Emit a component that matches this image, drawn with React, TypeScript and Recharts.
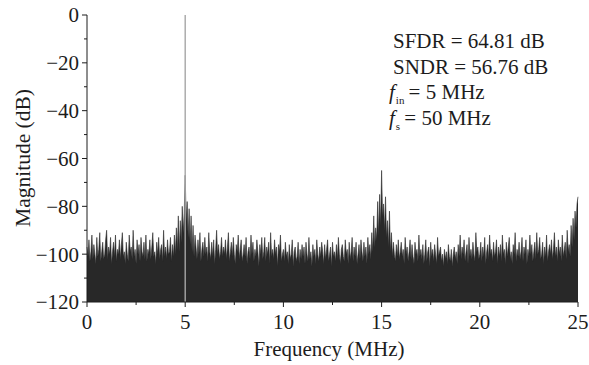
import { ComposedChart, Area, Line, XAxis, YAxis } from "recharts";

const FONT = '"Liberation Serif", "Times New Roman", serif';
const INK = "#1c1c1c";

// FFT magnitude (dB), one bin every 0.05 MHz, 0 .. 25 MHz (twenty bins per row = 1 MHz)
const magnitude = [
  -97, -101, -94, -103, -99, -92, -102, -96, -100, -104, -93, -101, -98, -91, -103, -99, -95, -102, -100, -94,
  -90, -102, -97, -100, -93, -104, -99, -95, -101, -92, -103, -98, -100, -94, -102, -96, -91, -101, -99, -104,
  -95, -100, -103, -92, -99, -97, -102, -90, -101, -98, -104, -94, -100, -96, -103, -93, -99, -101, -95, -102,
  -92, -103, -98, -100, -94, -102, -97, -91, -101, -99, -104, -95, -100, -93, -102, -98, -96, -103, -90, -101,
  -97, -102, -94, -100, -99, -93, -103, -96, -101, -92, -100, -89, -98, -84, -99, -86, -95, -80, -91, -83,
  -67, -86, -78, -93, -81, -96, -84, -99, -88, -101, -92, -97, -102, -94, -100, -91, -103, -98, -95, -101,
  -93, -100, -97, -103, -91, -99, -102, -95, -101, -94, -104, -98, -90, -100, -96, -102, -99, -93, -101, -97,
  -100, -94, -102, -97, -91, -103, -99, -95, -101, -93, -100, -104, -96, -99, -92, -102, -98, -94, -103, -100,
  -96, -101, -93, -104, -99, -97, -102, -92, -100, -95, -103, -98, -101, -94, -99, -105, -96, -100, -93, -102,
  -99, -93, -103, -97, -100, -95, -104, -91, -101, -98, -102, -94, -100, -97, -105, -96, -99, -92, -103, -100,
  -98, -103, -95, -101, -99, -104, -96, -102, -100, -94, -105, -99, -97, -103, -101, -95, -104, -98, -102, -96,
  -101, -97, -104, -95, -100, -103, -93, -102, -99, -105, -96, -101, -98, -104, -94, -100, -103, -97, -101, -95,
  -99, -104, -96, -102, -98, -94, -103, -100, -97, -105, -95, -101, -99, -103, -96, -102, -93, -100, -104, -98,
  -96, -101, -103, -94, -100, -98, -104, -95, -102, -99, -93, -103, -97, -101, -95, -104, -100, -96, -102, -94,
  -99, -103, -95, -101, -97, -104, -93, -100, -96, -102, -91, -99, -84, -97, -89, -94, -78, -92, -75, -88,
  -65, -84, -79, -90, -76, -93, -86, -97, -82, -99, -91, -101, -95, -100, -103, -96, -101, -94, -102, -99,
  -95, -101, -98, -104, -93, -100, -97, -103, -99, -94, -102, -96, -101, -104, -95, -100, -98, -103, -92, -101,
  -98, -102, -96, -104, -100, -94, -103, -99, -97, -105, -95, -101, -98, -103, -96, -100, -104, -93, -101, -99,
  -97, -103, -100, -105, -98, -102, -99, -104, -96, -101, -103, -98, -105, -100, -97, -102, -99, -104, -96, -101,
  -92, -102, -97, -100, -94, -103, -99, -96, -104, -93, -101, -98, -102, -95, -100, -103, -91, -99, -97, -102,
  -100, -95, -103, -97, -101, -93, -104, -99, -96, -102, -92, -100, -98, -103, -95, -101, -99, -94, -104, -97,
  -101, -96, -103, -92, -100, -98, -104, -95, -101, -97, -93, -102, -99, -104, -96, -100, -91, -103, -98, -101,
  -95, -102, -99, -93, -103, -97, -100, -94, -104, -98, -101, -92, -100, -96, -103, -99, -95, -102, -91, -100,
  -98, -93, -102, -100, -95, -104, -97, -101, -92, -103, -99, -96, -100, -94, -102, -98, -91, -101, -97, -103,
  -94, -100, -97, -103, -92, -101, -98, -95, -102, -90, -99, -96, -101, -88, -97, -85, -94, -82, -89, -79,
  -76,
];

// fundamental tone bin (fin = 5 MHz)
const signalFreq = [5, 5];
const signalMag = [-120, 0];

const xTicks = [0, 2.5, 5, 7.5, 10, 12.5, 15, 17.5, 20, 22.5, 25];
const yTicks = [-120, -110, -100, -90, -80, -70, -60, -50, -40, -30, -20, -10, 0];

const spectrum = magnitude.map((mag, i) => ({ freq: i / 20, mag }));
const signal = signalFreq.map((freq, i) => ({ freq, mag: signalMag[i] }));

const fmtNum = (v: number) => (v < 0 ? `\u2212${-v}` : `${v}`);

function YTick({ x, y, payload }: any) {
  const v = payload.value as number;
  const major = v % 20 === 0;
  return (
    <g>
      <line x1={x - (major ? 5 : 3)} x2={x} y1={y} y2={y} stroke={INK} />
      {major && (
        <text x={x - 8} y={y} dy="0.35em" textAnchor="end" fontFamily={FONT} fontSize={21} fill={INK}>
          {fmtNum(v)}
        </text>
      )}
    </g>
  );
}

function XTick({ x, y, payload }: any) {
  const v = payload.value as number;
  const major = v % 5 === 0;
  return (
    <g>
      <line x1={x} x2={x} y1={y} y2={y + (major ? 5 : 3)} stroke={INK} />
      {major && (
        <text x={x} y={y + 27} textAnchor="middle" fontFamily={FONT} fontSize={21} fill={INK}>
          {fmtNum(v)}
        </text>
      )}
    </g>
  );
}

const subStyle = { fontSize: 11, lineHeight: 0, marginLeft: 1 };

export default function App() {
  return (
    <div style={{ position: "absolute", left: 0, top: 0, width: 589, height: 365, background: "#fff" }}>
      <ComposedChart width={589} height={365} data={spectrum} margin={{ top: 15, right: 11, left: 0, bottom: 0 }}>
        <XAxis
          dataKey="freq"
          type="number"
          domain={[0, 25]}
          ticks={xTicks}
          interval={0}
          height={63}
          tickSize={0}
          tickMargin={0}
          tick={<XTick />}
          axisLine={{ stroke: INK }}
          label={{
            content: () => (
              <text x={329} y={356} textAnchor="middle" fontFamily={FONT} fontSize={21} fill={INK}>
                Frequency (MHz)
              </text>
            ),
          }}
        />
        <XAxis xAxisId="top" orientation="top" type="number" domain={[0, 25]} height={0} tick={false} tickLine={false} axisLine={{ stroke: INK }} />
        <YAxis
          type="number"
          domain={[-120, 0]}
          ticks={yTicks}
          interval={0}
          allowDataOverflow
          width={87}
          tickSize={0}
          tickMargin={0}
          tick={<YTick />}
          axisLine={{ stroke: INK }}
          label={{
            content: () => (
              <text x={22} y={158} transform="rotate(-90 22 158)" dy="0.35em" textAnchor="middle" fontFamily={FONT} fontSize={21.5} fill={INK}>
                Magnitude (dB)
              </text>
            ),
          }}
        />
        <YAxis yAxisId="right" orientation="right" type="number" domain={[-120, 0]} width={0} tick={false} tickLine={false} axisLine={{ stroke: INK }} />
        <Area
          type="linear"
          dataKey="mag"
          baseValue={-120}
          fill="#282828"
          fillOpacity={1}
          stroke="#2a2a2a"
          strokeWidth={0.6}
          dot={false}
          activeDot={false}
          isAnimationActive={false}
        />
        <Line
          data={signal}
          dataKey="mag"
          type="linear"
          stroke="#a6a6a6"
          strokeWidth={1.4}
          dot={false}
          activeDot={false}
          isAnimationActive={false}
        />
      </ComposedChart>
      <div
        style={{
          position: "absolute",
          left: 389,
          top: 29,
          fontFamily: FONT,
          fontSize: 21,
          lineHeight: "25.5px",
          color: INK,
          whiteSpace: "nowrap",
        }}
      >
        <div style={{ paddingLeft: 4 }}>SFDR = 64.81 dB</div>
        <div style={{ paddingLeft: 4 }}>SNDR = 56.76 dB</div>
        <div>
          <i>f</i>
          <sub style={subStyle}>in</sub>
          {"\u2009= 5 MHz"}
        </div>
        <div>
          <i>f</i>
          <sub style={subStyle}>s</sub>
          {"\u2009= 50 MHz"}
        </div>
      </div>
    </div>
  );
}
